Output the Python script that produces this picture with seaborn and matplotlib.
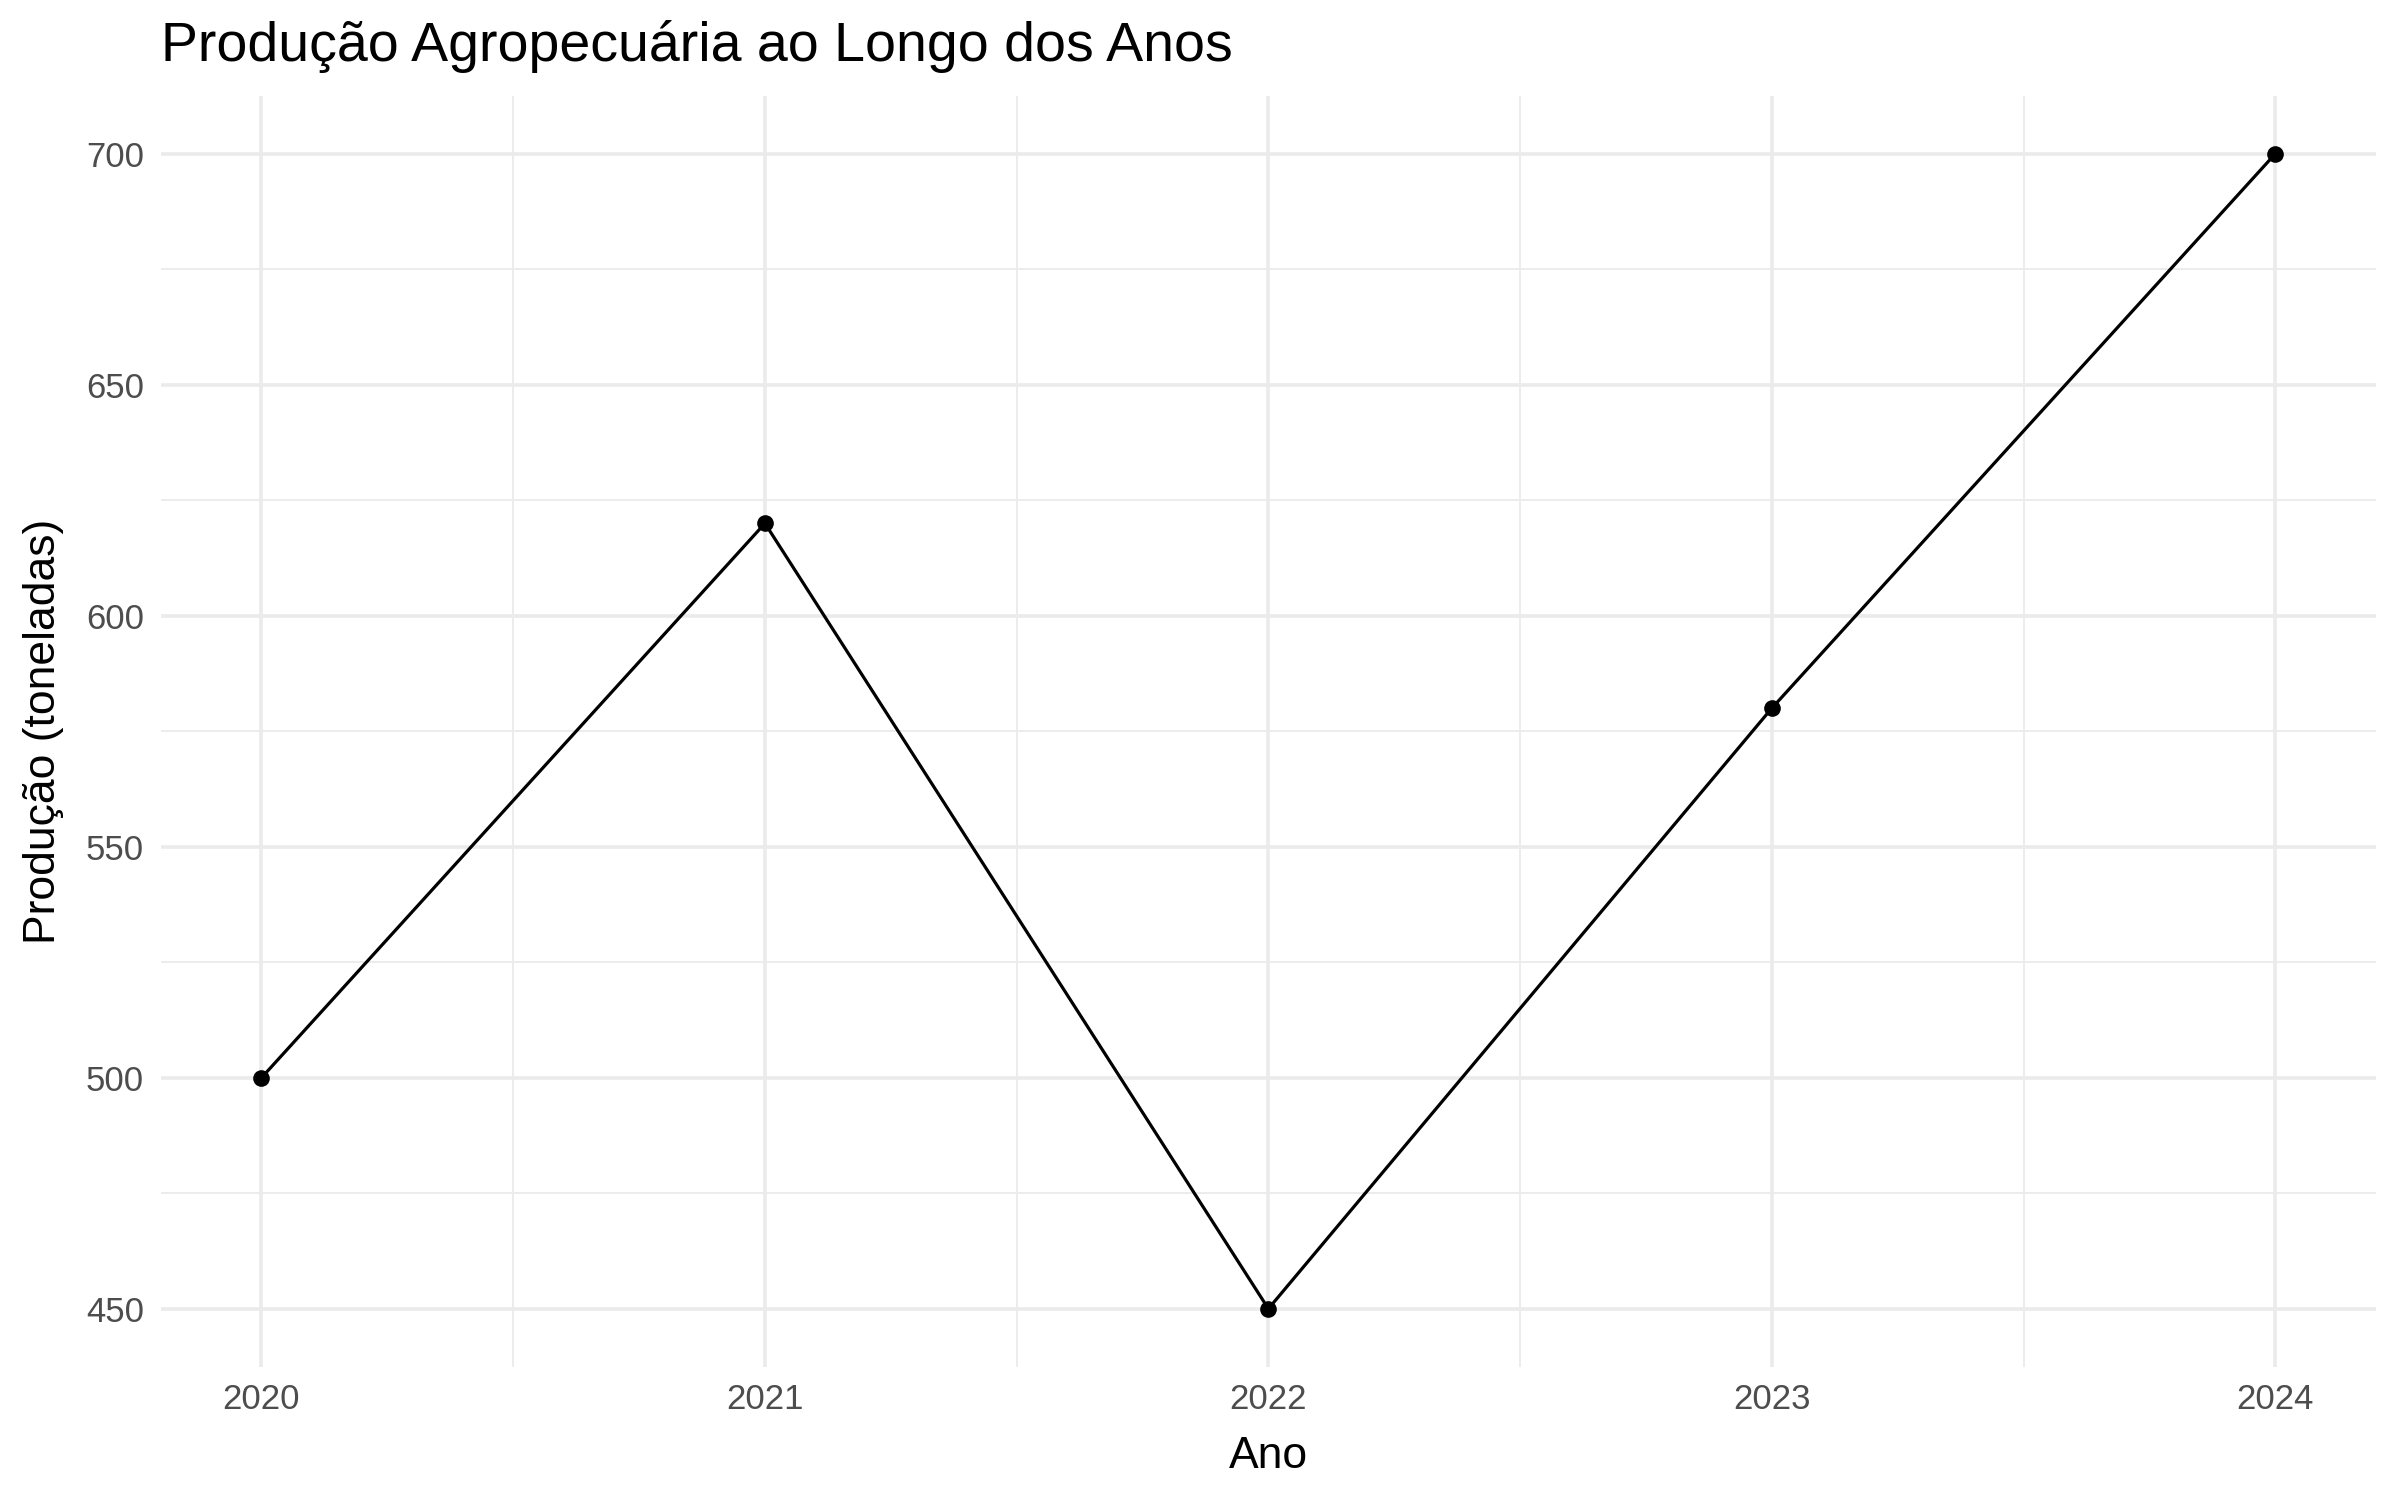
import matplotlib
matplotlib.use("Agg")
import matplotlib.pyplot as plt
import seaborn as sns
import pandas as pd
from matplotlib.ticker import MultipleLocator

# Data
anos = [2020, 2021, 2022, 2023, 2024]
producao = [500, 620, 450, 580, 700]

df = pd.DataFrame({"Ano": anos, "Producao": producao})

sns.set_theme(style="whitegrid")
plt.rcParams['font.family'] = ['Liberation Sans', 'DejaVu Sans']

fig = plt.figure(figsize=(12, 7.5), dpi=200)
ax = fig.add_axes([0.067, 0.089, 0.923, 0.847])

sns.lineplot(data=df, x="Ano", y="Producao", color="black", linewidth=1.15,
             marker="o", markersize=6, markeredgewidth=0, ax=ax, zorder=3)

# ggplot-like expansion
ax.set_xlim(2020 - 0.2, 2024 + 0.2)
ax.set_ylim(450 - 12.5, 700 + 12.5)
ax.xaxis.set_major_locator(MultipleLocator(1))
ax.xaxis.set_minor_locator(MultipleLocator(0.5))
ax.yaxis.set_major_locator(MultipleLocator(50))
ax.yaxis.set_minor_locator(MultipleLocator(25))

ax.set_facecolor("white")
for s in ax.spines.values():
    s.set_visible(False)
ax.grid(which="major", color="#EBEBEB", linewidth=1.3)
ax.grid(which="minor", color="#EBEBEB", linewidth=0.65)
ax.tick_params(which="both", length=0)
ax.tick_params(axis="both", labelsize=12.5, labelcolor="#4D4D4D", pad=6)

ax.set_xlabel("Ano", fontsize=16, color="black", labelpad=7)
ax.set_ylabel("Produção (toneladas)", fontsize=16, color="black", labelpad=8)
fig.text(0.067, 0.969, "Produção Agropecuária ao Longo dos Anos",
         fontsize=20, color="black", ha="left", va="center")

fig.savefig("out.png", dpi=200, facecolor="white")
